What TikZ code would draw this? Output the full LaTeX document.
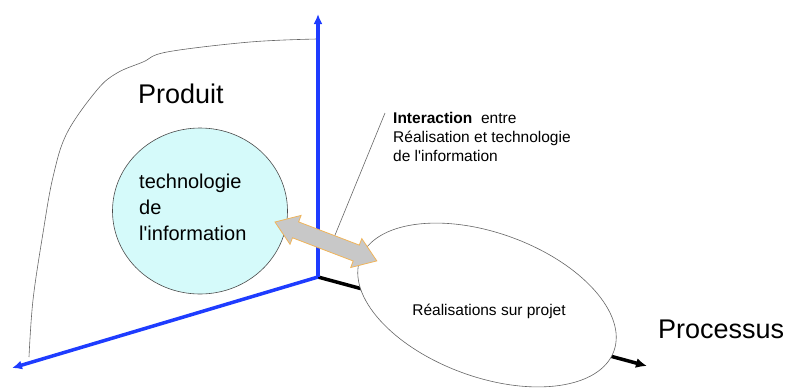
\documentclass[tikz,border=0pt]{standalone}
\usepackage{fontspec}
\setmainfont{Liberation Sans}
\usetikzlibrary{arrows.meta,shapes.geometric}
\definecolor{axisblue}{RGB}{30,60,255}
\definecolor{techfill}{RGB}{213,250,250}
\definecolor{arrowgray}{RGB}{200,200,200}
\definecolor{arroworange}{RGB}{240,180,90}
\tikzset{
  axisline/.style={line width=3.5pt, color=axisblue, -{Latex[length=10pt,width=9pt]}},
  procline/.style={line width=3.5pt, color=black, -{Latex[length=11pt,width=10pt]}},
  thinline/.style={line width=0.6pt, color=black!60},
  bigtext/.style={font=\fontsize{27}{32}\selectfont, inner sep=0pt},
  midtext/.style={font=\fontsize{20}{24}\selectfont, inner sep=0pt},
  smalltext/.style={font=\fontsize{15.5}{19}\selectfont, inner sep=0pt},
}
\begin{document}
\begin{tikzpicture}[x=1pt,y=-1pt]
\useasboundingbox (0,0) rectangle (787,389);
\coordinate (O) at (318,277);
\coordinate (Ztip) at (318,14);
\coordinate (Xtip) at (12,368);
\coordinate (Ytip) at (647,366);
\coordinate (curveend) at (317,39);
% Produit envelope
\draw[thinline] plot[smooth, tension=0.6] coordinates {(29,357) (33,300) (43,233) (53,177) (67,133) (97,90) (117,73) (143,62) (167,52) (250,42) (curveend)};
% technology circle
\node[ellipse, draw=black!70, line width=0.6pt, fill=techfill, minimum width=175pt, minimum height=166pt, inner sep=0pt] (tech) at (200,211) {};
% process axis (below ellipse)
\draw[procline] (O) -- (Ytip);
% realisations ellipse
\node[ellipse, draw=black!60, line width=0.6pt, fill=white, minimum width=270pt, minimum height=144pt, inner sep=0pt, rotate=-20] (real) at (487,305) {};
% blue axes
\draw[axisline] (O) -- (Ztip);
\draw[axisline] (O) -- (Xtip);
% leader line
\coordinate (leadA) at (333,240);
\coordinate (leadB) at (385,113);
\draw[thinline] (leadA) -- (leadB);
% interaction double arrow
\draw[fill=arrowgray, draw=arroworange, line width=0.8pt, line join=miter]
  (275,222) -- (301.1,215.4) -- (298.6,221.9) -- (359.3,245.1) -- (361.8,238.6)
  -- (376.8,260.9) -- (350.7,267.5) -- (353.2,261.0) -- (292.5,237.8) -- (290.0,244.3) -- cycle;
% texts
\node[bigtext, anchor=base west] (produit) at (138,103) {Produit};
\node[bigtext, anchor=base west] (processus) at (658,338) {Processus};
\node[midtext, anchor=base west] (t1) at (139,188) {technologie};
\node[midtext, anchor=base west] (t2) at (139,214) {de};
\node[midtext, anchor=base west] (t3) at (139,240) {l\textquotesingle information};
\node[smalltext, anchor=base west] (i1) at (393,123) {\textbf{Interaction}\ \ entre};
\node[smalltext, anchor=base west] (i2) at (393,142) {Réalisation et technologie};
\node[smalltext, anchor=base west] (i3) at (393,161) {de l\textquotesingle information};
\node[smalltext, anchor=base] (rtext) at (489,315) {Réalisations sur projet};
\end{tikzpicture}
\end{document}
